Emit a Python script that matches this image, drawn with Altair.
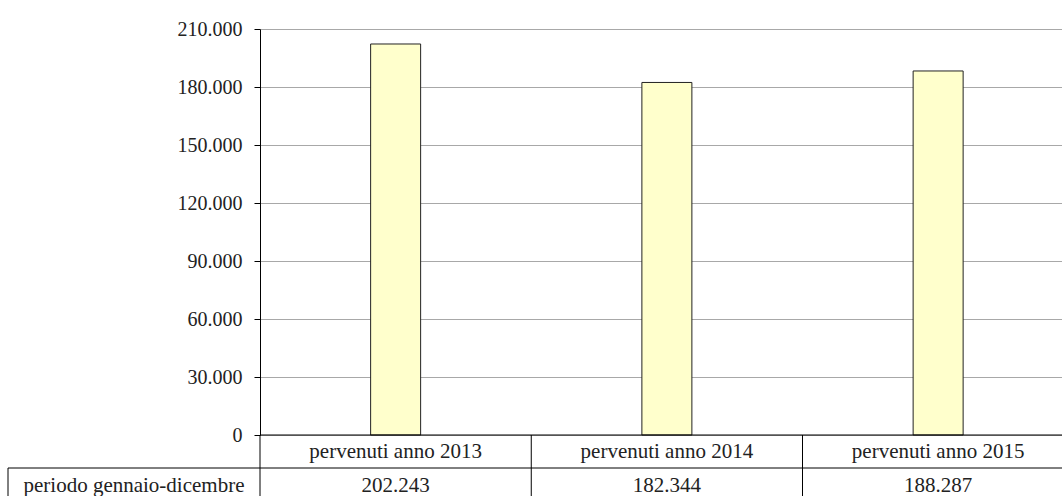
import altair as alt
import pandas as pd

# Documenti pervenuti per anno, periodo gennaio-dicembre
categorie = ["pervenuti anno 2013", "pervenuti anno 2014", "pervenuti anno 2015"]
valori = [202243, 182344, 188287]
etichetta_riga = "periodo gennaio-dicembre"
tick_y = [0, 30000, 60000, 90000, 120000, 150000, 180000, 210000]

df = pd.DataFrame({"categoria": categorie, "valore": valori})

FONT = "Liberation Serif"
TEXT = "#222222"
W, H = 802, 406
FMT = "replace(format(datum.value, ','), ',', '.')"

x_scale = alt.Scale(range=[0, 813.75], paddingInner=0, paddingOuter=0)
x_enc = alt.X("categoria:N", sort=categorie, axis=None, scale=x_scale)

base = alt.Chart(df)

bars = base.mark_bar(size=50, fill="#ffffcc", stroke="#222222", strokeWidth=1).encode(
    x=x_enc,
    y=alt.Y(
        "valore:Q",
        scale=alt.Scale(domain=[0, 210000], nice=False),
        axis=alt.Axis(
            values=tick_y,
            title=None,
            labelExpr=FMT,
            labelFont=FONT,
            labelFontSize=20,
            labelColor=TEXT,
            labelPadding=12,
            tickSize=6,
            tickColor="#000000",
            domainColor="#000000",
            grid=True,
            gridColor="#a8a8a8",
        ),
    ),
)

# asse orizzontale (bordo superiore della tabella)
x_line = alt.Chart(pd.DataFrame({"k": [0]})).mark_rule(color="#000000").encode(
    y=alt.value(H), x=alt.value(0), x2=alt.value(W + 20)
)

# separatori di colonna della tabella
col_sep = base.mark_rule(color="#000000").encode(
    x=alt.X("categoria:N", sort=categorie, bandPosition=0, axis=None, scale=x_scale),
    y=alt.value(H),
    y2=alt.value(H + 61),
)

# riga dei valori: bordo superiore e bordo sinistro
row_top = alt.Chart(pd.DataFrame({"k": [0]})).mark_rule(color="#000000").encode(
    x=alt.value(-252), x2=alt.value(W + 20), y=alt.value(H + 33)
)
row_left = alt.Chart(pd.DataFrame({"k": [0]})).mark_rule(color="#000000").encode(
    x=alt.value(-252), y=alt.value(H + 33), y2=alt.value(H + 61)
)

cat_text = base.mark_text(font=FONT, fontSize=21, color=TEXT, baseline="middle").encode(
    x=x_enc, y=alt.value(H + 17), text="categoria:N"
)

val_text = base.transform_calculate(
    etichetta="replace(format(datum.valore, ','), ',', '.')"
).mark_text(font=FONT, fontSize=21, color=TEXT, baseline="middle").encode(
    x=x_enc, y=alt.value(H + 51), text="etichetta:N"
)

row_label = alt.Chart(pd.DataFrame({"t": [etichetta_riga]})).mark_text(
    font=FONT, fontSize=21, color=TEXT, baseline="middle"
).encode(x=alt.value(-126), y=alt.value(H + 51), text="t:N")

chart = (
    alt.layer(bars, x_line, col_sep, row_top, row_left, cat_text, val_text, row_label)
    .properties(
        width=W,
        height=H,
        autosize=alt.AutoSizeParams(type="none"),
        padding={"left": 260, "top": 29, "right": 0, "bottom": 61},
    )
    .configure_view(strokeWidth=0)
)

chart.save("out.html", embed_options={"renderer": "svg", "actions": False})
